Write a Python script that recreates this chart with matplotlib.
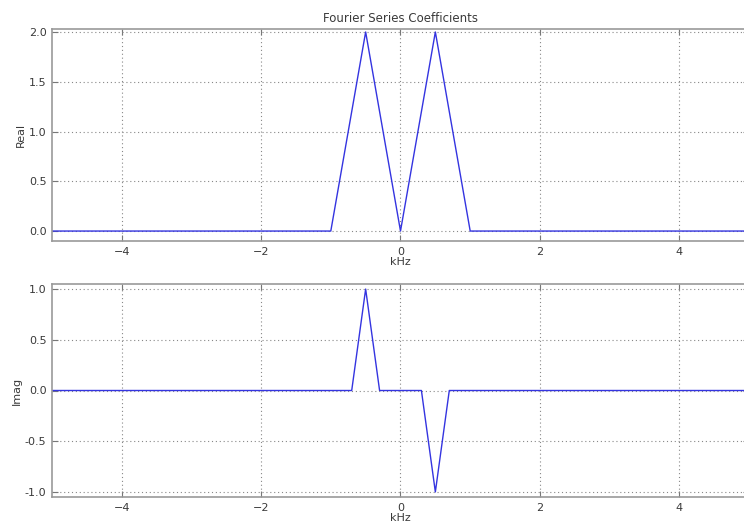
import matplotlib.pyplot as plt

# breakpoints of the piecewise-linear spectra (kHz)
f_real = [-5, -1, -0.5, 0, 0.5, 1, 5]
c_real = [0, 0, 2, 0, 2, 0, 0]

f_imag = [-5, -0.7, -0.5, -0.3, 0.3, 0.5, 0.7, 5]
c_imag = [0, 0, 1, 0, 0, -1, 0, 0]

xticks = [-4, -2, 0, 2, 4]

plt.rcParams['font.family'] = 'DejaVu Sans'
plt.rcParams['font.size'] = 8
txt = '#3a3a3a'

fig = plt.figure(figsize=(7.44, 5.23), dpi=100)
W, H = 744, 523
ax1 = fig.add_axes([52 / W, 1 - 241 / H, 697 / W, 212 / H])
ax2 = fig.add_axes([52 / W, 1 - 497 / H, 697 / W, 213 / H])

for ax, f, c, yl, yt in [
        (ax1, f_real, c_real, 'Real', [0, 0.5, 1.0, 1.5, 2.0]),
        (ax2, f_imag, c_imag, 'Imag', [-1.0, -0.5, 0, 0.5, 1.0])]:
    ax.plot(f, c, color='#3434e0', lw=1.0)
    ax.set_xlim(-5, 5)
    ax.set_xticks(xticks)
    ax.set_yticks(yt)
    ax.yaxis.set_major_formatter(plt.FormatStrFormatter('%.1f'))
    ax.grid(True, linestyle=(0, (1, 2.5)), color='#888888', lw=0.8)
    ax.set_xlabel('kHz', color=txt, labelpad=0)
    ax.set_ylabel(yl, color=txt, labelpad=2)
    ax.tick_params(direction='in', colors='#777777', labelcolor=txt, length=4,
                   pad=4, top=True, right=True)
    for s in ax.spines.values():
        s.set_color('#999999')
        s.set_linewidth(1.2)

ax1.set_ylim(-0.1, 2.03)
ax2.set_ylim(-1.05, 1.05)
ax1.set_title('Fourier Series Coefficients', color=txt, fontsize=8.5, pad=5)

fig.savefig('out.png', dpi=100)
